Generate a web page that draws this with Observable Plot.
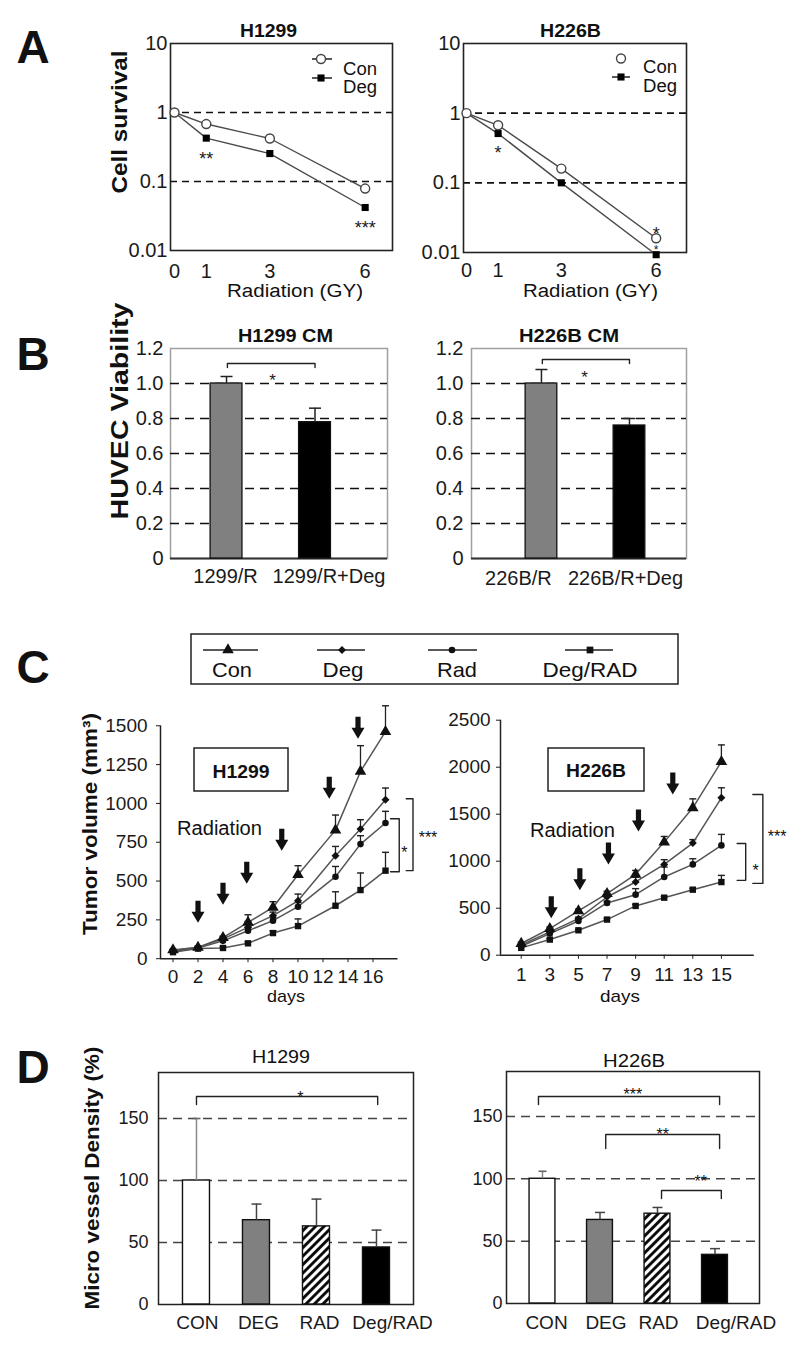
<!DOCTYPE html>
<html><head><meta charset="utf-8">
<script src="https://cdn.jsdelivr.net/npm/d3@7"></script>
<script src="https://cdn.jsdelivr.net/npm/@observablehq/plot@0.6"></script>
<style>
html,body{margin:0;padding:0;background:#fff;}
#root{position:relative;width:810px;height:1359px;overflow:hidden;background:#fff;}
#root svg{overflow:visible;}
</style></head><body><div id="root"></div>
<script>
const FONT = "'Liberation Sans', Arial, Helvetica, sans-serif";

// ---------------- Panel A : cell survival ----------------
const radDose = [0, 1, 3, 6];
const a1299Con = [1, 0.68, 0.42, 0.079];
const a1299Deg = [1, 0.425, 0.254, 0.042];
const a226Con = [1, 0.67, 0.16, 0.016];
const a226Deg = [1, 0.51, 0.10, 0.0093];
const aTicksY = [0.01, 0.1, 1, 10];
const aRefLines = [1, 0.1];
const aStars1299 = [{dose: 1, v: 0.24, t: "**", fs: 18}, {dose: 6, v: 0.024, t: "***", fs: 18}];
const aStars226 = [{dose: 1, v: 0.30, t: "*", fs: 18}, {dose: 6, v: 0.021, t: "*", fs: 18}, {dose: 6, v: 0.0125, t: "*", fs: 12}];

// ---------------- Panel B : HUVEC viability ----------------
const b1299Cats = ["1299/R", "1299/R+Deg"];
const b1299Vals = [1.0, 0.779];
const b1299Err = [1.04, 0.859];
const b226Cats = ["226B/R", "226B/R+Deg"];
const b226Vals = [1.0, 0.76];
const b226Err = [1.08, 0.80];
const bTicksY = [0, 0.2, 0.4, 0.6, 0.8, 1.0, 1.2];
const bGrid = [0.2, 0.4, 0.6, 0.8, 1.0];
const b1299Bracket = {x1: 0.01, x2: 1.0, top: 1.114, end: 1.091, sx: 0.52, sy: 1.04, t: "*"};
const b226Bracket = {x1: 0.01, x2: 1.0, top: 1.137, end: 1.114, sx: 0.49, sy: 1.057, t: "*"};

// ---------------- Panel C : tumor volume ----------------
const cSeries = ["Con", "Deg", "Rad", "Deg/RAD"];
const cDays1299 = [0, 2, 4, 6, 8, 10, 13, 15, 17];
const c1299Con = [56, 73, 135, 234, 330, 541, 828, 1206, 1462];
const c1299ConErr = [62, 80, 145, 283, 367, 599, 925, 1372, 1629];
const c1299Deg = [52, 72, 128, 202, 277, 373, 663, 835, 1024];
const c1299DegErr = [58, 78, 138, 240, 300, 416, 723, 895, 1099];
const c1299Rad = [46, 68, 115, 180, 245, 335, 528, 738, 874];
const c1299RadErr = [52, 74, 125, 200, 265, 362, 594, 792, 949];
const c1299DR = [42, 65, 69, 99, 165, 210, 341, 442, 567];
const c1299DRErr = [48, 70, 76, 108, 180, 256, 431, 552, 685];
const cDays226 = [1, 3, 5, 7, 9, 11, 13, 15];
const c226Con = [124, 283, 471, 655, 860, 1203, 1568, 2059];
const c226ConErr = [140, 300, 490, 680, 902, 1263, 1663, 2237];
const c226Deg = [110, 248, 389, 619, 779, 966, 1193, 1674];
const c226DegErr = [122, 262, 405, 640, 830, 1016, 1230, 1781];
const c226Rad = [95, 230, 364, 556, 644, 832, 966, 1168];
const c226RadErr = [108, 245, 380, 575, 708, 938, 1026, 1285];
const c226DR = [78, 166, 265, 379, 524, 612, 697, 778];
const c226DRErr = [88, 176, 275, 390, 540, 625, 712, 849];
const cTicks1299X = [0, 2, 4, 6, 8, 10, 12, 14, 16];
const cTicks1299Y = [0, 250, 500, 750, 1000, 1250, 1500];
const cTicks226X = [1, 3, 5, 7, 9, 11, 13, 15];
const cTicks226Y = [0, 500, 1000, 1500, 2000, 2500];
const cArrow1299Day = [2, 4, 5.9, 8.7, 12.5, 14.8];
const cArrow1299Tip = [232, 348, 483, 695, 1030, 1417];
const cArrow226Day = [3.1, 5.1, 7.1, 9.2, 11.6];
const cArrow226Tip = [393, 690, 966, 1316, 1709];
const cBrackets1299 = [
  {xa: 17.4, xb: 18.1, ya: 901, yb: 560, sx: 18.5, sy: 708, t: "*"},
  {xa: 18.66, xb: 19.2, ya: 1030, yb: 567, sx: 20.4, sy: 805, t: "***"}
];
const cBrackets226 = [
  {xa: 16.1, xb: 16.7, ya: 1189, yb: 796, sx: 17.4, sy: 936, t: "*"},
  {xa: 17.2, xb: 17.9, ya: 1709, yb: 764, sx: 18.9, sy: 1306, t: "***"}
];

// ---------------- Panel D : micro vessel density ----------------
const dCats = ["CON", "DEG", "RAD", "Deg/RAD"];
const d1299Vals = [100, 68, 63, 46];
const d1299Err = [150, 81, 85, 60];
const d226Vals = [100, 67, 72, 39];
const d226Err = [106, 73, 77, 44];
const dTicksY = [0, 50, 100, 150];
const dGrid = [50, 100, 150];
const d1299Brackets = [{x1: 0, x2: 3.02, top: 167.7, end: 161.3, sx: 1.73, sy: 170, t: "*"}];
const d226Brackets = [
  {x1: -0.07, x2: 3.08, top: 166, end: 159.6, sx: 1.57, sy: 170.8, t: "***"},
  {x1: 1.1, x2: 3.08, top: 135.5, end: 124.3, sx: 2.09, sy: 138, t: "**"},
  {x1: 2.07, x2: 3.11, top: 90.6, end: 84.2, sx: 2.75, sy: 101, t: "**"}
];

// ---------------- helpers ----------------
const root = document.getElementById("root");
const plain = d => String(d);
function place(frame, m, opts) {
  const [x0, x1, y0, y1] = frame;
  const [t, r, b, l] = m;
  const width = x1 - x0 + l + r, height = y1 - y0 + t + b;
  const svg = Plot.plot({
    width, height, marginTop: t, marginRight: r, marginBottom: b, marginLeft: l,
    style: {fontFamily: FONT, fontSize: opts.fontSize || "20px", color: "#1a1a1a", background: "transparent", overflow: "visible"},
    ...opts.plot
  });
  const div = document.createElement("div");
  div.style.cssText = `position:absolute;left:${x0 - l}px;top:${y0 - t}px;width:${width}px;height:${height}px;`;
  div.appendChild(svg);
  root.appendChild(div);
  return svg;
}
const cap = (w) => ({draw(ctx) { ctx.moveTo(-w, 0); ctx.lineTo(w, 0); }});
const arrowDown = {draw(ctx) {
  ctx.moveTo(0, 0); ctx.lineTo(-6.5, -11); ctx.lineTo(-2.6, -11); ctx.lineTo(-2.6, -22);
  ctx.lineTo(2.6, -22); ctx.lineTo(2.6, -11); ctx.lineTo(6.5, -11); ctx.closePath();
}};
const HATCH = "#010203";
function addHatch(svg, id) {
  const ns = "http://www.w3.org/2000/svg";
  const defs = document.createElementNS(ns, "defs");
  defs.innerHTML = `<pattern id="${id}" patternUnits="userSpaceOnUse" width="6" height="6" patternTransform="rotate(45)"><rect width="6" height="6" fill="#fff"/><line x1="1.5" y1="0" x2="1.5" y2="6" stroke="#000" stroke-width="2.8"/></pattern>`;
  svg.insertBefore(defs, svg.firstChild);
  svg.querySelectorAll(`[fill="${HATCH}"]`).forEach(el => el.setAttribute("fill", `url(#${id})`));
}

// ---------------- Panel A ----------------
function survival(frame, con, deg, stars, xDomain, xPad) {
  const rows = radDose.flatMap((d, i) => [{dose: d, v: con[i], s: "Con"}, {dose: d, v: deg[i], s: "Deg"}]);
  place(frame, [5, 5, 40, 60], {plot: {
    x: {domain: xDomain, ticks: radDose, tickSize: 0, tickPadding: xPad, label: null, tickFormat: plain},
    y: {type: "log", domain: [0.01, 10], ticks: aTicksY, tickSize: 0, tickPadding: 3, label: null, tickFormat: plain},
    marks: [
      Plot.ruleY(aRefLines, {stroke: "#111", strokeWidth: 1.6, strokeDasharray: "7,5"}),
      Plot.frame({stroke: "#222", strokeWidth: 1.6}),
      Plot.line(rows, {x: "dose", y: "v", z: "s", stroke: "#4a4a4a", strokeWidth: 1.4}),
      Plot.dot(rows, {filter: d => d.s === "Deg", x: "dose", y: "v", symbol: "square", r: 4, fill: "#000"}),
      Plot.dot(rows, {filter: d => d.s === "Con", x: "dose", y: "v", r: 4.5, fill: "white", stroke: "#444", strokeWidth: 1.4}),
      Plot.text(stars, {x: "dose", y: "v", text: "t", fontSize: "fs", dy: 4})
    ]
  }});
}
survival([170, 392, 43, 250], a1299Con, a1299Deg, aStars1299, [-0.126, 6.86], 13);
survival([463, 686, 43, 252], a226Con, a226Deg, aStars226, [-0.095, 6.96], 10);

// ---------------- Panel B ----------------
function viability(frame, cats, vals, errs, br, xDomain, dxs, labelDy, tickPad) {
  const bars = cats.map((c, i) => ({i, name: c, v: vals[i], e: errs[i]}));
  const hw = 0.18;
  const bpts = [{x: br.x1, y: br.end}, {x: br.x1, y: br.top}, {x: br.x2, y: br.top}, {x: br.x2, y: br.end}];
  place(frame, [5, 5, 35, 60], {plot: {
    x: {domain: xDomain, axis: null},
    y: {domain: [0, 1.2], ticks: bTicksY, tickSize: 0, tickPadding: tickPad, label: null, tickFormat: d => d === 0 ? "0" : d.toFixed(1)},
    marks: [
      Plot.frame({stroke: "#a0a0a0", strokeWidth: 1.5}),
      Plot.ruleY(bGrid, {stroke: "#111", strokeWidth: 1.7, strokeDasharray: "9,6"}),
      Plot.ruleY([0], {stroke: "#333", strokeWidth: 2}),
      Plot.rectY(bars, {filter: d => d.i === 0, x1: d => d.i - hw, x2: d => d.i + hw, y: "v", fill: "#808080", stroke: "#111", strokeWidth: 1.3}),
      Plot.rectY(bars, {filter: d => d.i === 1, x1: d => d.i - hw, x2: d => d.i + hw, y: "v", fill: "#000", stroke: "#111", strokeWidth: 1.3}),
      Plot.ruleX(bars, {x: "i", y1: "v", y2: "e", stroke: "#222", strokeWidth: 1.5}),
      Plot.dot(bars, {x: "i", y: "e", symbol: cap(6), stroke: "#222", strokeWidth: 1.5, fill: "none"}),
      Plot.line(bpts, {x: "x", y: "y", stroke: "#222", strokeWidth: 1.4}),
      Plot.text([br], {x: "sx", y: "sy", text: "t", fontSize: 17, dy: 4}),
      ...bars.map((b, k) => Plot.text(bars, {filter: d => d.i === k, x: "i", text: "name", frameAnchor: "bottom", lineAnchor: "top", dy: labelDy, dx: dxs[k]}))
    ]
  }});
}
viability([170, 387, 348, 558], b1299Cats, b1299Vals, b1299Err, b1299Bracket, [-0.633, 1.819], [-1, 14], 10, 7);
viability([471, 686, 348, 558], b226Cats, b226Vals, b226Err, b226Bracket, [-0.795, 1.648], [-23, -4], 12, 8);

// ---------------- Panel C ----------------
function tumor(o) {
  const syms = {"Con": ["triangle", 4.3], "Deg": ["diamond2", 3.6], "Rad": ["circle", 3.3], "Deg/RAD": ["square", 3.6]};
  const rows = cSeries.flatMap((s, k) => o.days.map((d, i) => ({s, day: d, v: o.vals[k][i], e: o.errs[k][i]})));
  const arrows = o.arrowDays.map((d, i) => ({day: d, tip: o.arrowTips[i]}));
  const bpts = o.brackets.flatMap((b, k) => [{k, x: b.xa, y: b.ya}, {k, x: b.xb, y: b.ya}, {k, x: b.xb, y: b.yb}, {k, x: b.xa, y: b.yb}]);
  place(o.frame, [5, 5, 45, 75], {fontSize: "19px", plot: {
    x: {domain: o.xDomain, ticks: o.xTicks, tickSize: 4, tickPadding: o.xPad, label: null, tickFormat: plain},
    y: {domain: o.yDomain, ticks: o.yTicks, tickSize: 4, tickPadding: o.yPad, label: null, tickFormat: plain},
    marks: [
      Plot.ruleX([o.xDomain[0]], {y1: () => 0, y2: () => o.yTicks[o.yTicks.length - 1], stroke: "#222", strokeWidth: 1.5}),
      Plot.ruleY([0], {x1: () => o.xDomain[0], x2: () => o.xAxisEnd, stroke: "#222", strokeWidth: 1.5}),
      Plot.ruleX(rows, {x: "day", y1: "v", y2: "e", stroke: "#222", strokeWidth: 1.3}),
      Plot.dot(rows, {x: "day", y: "e", symbol: cap(3.5), stroke: "#222", strokeWidth: 1.4, fill: "none"}),
      Plot.line(rows, {x: "day", y: "v", z: "s", stroke: "#555", strokeWidth: 1.5}),
      ...cSeries.map(s => Plot.dot(rows, {filter: d => d.s === s, x: "day", y: "v", symbol: syms[s][0], r: syms[s][1], fill: "#111"})),
      Plot.dot(arrows, {x: "day", y: "tip", symbol: arrowDown, fill: "#111"}),
      Plot.line(bpts, {x: "x", y: "y", z: "k", stroke: "#222", strokeWidth: 1.4}),
      Plot.text(o.brackets, {x: "sx", y: "sy", text: "t", fontSize: 16, dy: 4, fill: "#111"})
    ]
  }});
}
tumor({frame: [160, 441.25, 701.8, 958], days: cDays1299,
  vals: [c1299Con, c1299Deg, c1299Rad, c1299DR], errs: [c1299ConErr, c1299DegErr, c1299RadErr, c1299DRErr],
  xDomain: [-1, 21.5], yDomain: [0, 1650], xTicks: cTicks1299X, yTicks: cTicks1299Y, xAxisEnd: 18,
  arrowDays: cArrow1299Day, arrowTips: cArrow1299Tip, brackets: cBrackets1299, xPad: 7, yPad: 9});
tumor({frame: [500, 792.4, 715.3, 955], days: cDays226,
  vals: [c226Con, c226Deg, c226Rad, c226DR], errs: [c226ConErr, c226DegErr, c226RadErr, c226DRErr],
  xDomain: [-0.45, 20], yDomain: [0, 2550], xTicks: cTicks226X, yTicks: cTicks226Y, xAxisEnd: 17.3,
  arrowDays: cArrow226Day, arrowTips: cArrow226Tip, brackets: cBrackets226, xPad: 8, yPad: 6});

// ---------------- Panel D ----------------
function mvd(frame, vals, errs, brackets, xDomain, yDomain, tickPad, dxs, labelDy, hatchId) {
  const bars = dCats.map((c, i) => ({i, name: c, v: vals[i], e: errs[i]}));
  const hw = 0.225;
  const fills = ["#ffffff", "#808080", HATCH, "#000000"];
  const bpts = brackets.flatMap((b, k) => [{k, x: b.x1, y: b.end}, {k, x: b.x1, y: b.top}, {k, x: b.x2, y: b.top}, {k, x: b.x2, y: b.end}]);
  const svg = place(frame, [5, 5, 40, 50], {fontSize: "18px", plot: {
    x: {domain: xDomain, axis: null},
    y: {domain: yDomain, ticks: dTicksY, tickSize: 0, tickPadding: tickPad, label: null, tickFormat: plain},
    marks: [
      Plot.ruleY(dGrid, {stroke: "#444", strokeWidth: 1.5, strokeDasharray: "9,6"}),
      Plot.frame({stroke: "#222", strokeWidth: 1.5}),
      ...fills.map((f, k) => Plot.rectY(bars, {filter: d => d.i === k, x1: d => d.i - hw, x2: d => d.i + hw, y: "v", fill: f, stroke: "#111", strokeWidth: 1.4})),
      Plot.ruleX(bars, {filter: d => d.i === 0, x: "i", y1: "v", y2: "e", stroke: "#888", strokeWidth: 1.5}),
      Plot.dot(bars, {filter: d => d.i === 0, x: "i", y: "e", symbol: cap(4), stroke: "#666", strokeWidth: 1.6, fill: "none"}),
      Plot.ruleX(bars, {filter: d => d.i > 0, x: "i", y1: "v", y2: "e", stroke: "#444", strokeWidth: 1.5}),
      Plot.dot(bars, {filter: d => d.i > 0, x: "i", y: "e", symbol: cap(5), stroke: "#444", strokeWidth: 1.5, fill: "none"}),
      Plot.line(bpts, {x: "x", y: "y", z: "k", stroke: "#222", strokeWidth: 1.4}),
      Plot.text(brackets, {x: "sx", y: "sy", text: "t", fontSize: 16, dy: 4, fill: "#111"}),
      ...bars.map((b, k) => Plot.text(bars, {filter: d => d.i === k, x: "i", text: "name", fontSize: 19, frameAnchor: "bottom", lineAnchor: "top", dy: labelDy, dx: dxs[k]}))
    ]
  }});
  addHatch(svg, hatchId);
}
mvd([158, 413, 1072, 1304], d1299Vals, d1299Err, d1299Brackets, [-0.633, 3.617], [0, 187.1], 10, [1, 2, 3, 16], 11, "hatchL");
mvd([506, 759, 1071, 1303], d226Vals, d226Err, d226Brackets, [-0.626, 3.774], [0, 186], 4, [4, 6, 1, 21], 12, "hatchR");

// ---------------- overlay: titles, labels, legends ----------------
const ov = d3.select(root).append("svg").attr("width", 810).attr("height", 1359)
  .style("position", "absolute").style("left", "0px").style("top", "0px").style("overflow", "visible").style("pointer-events", "none");
function T(str, x, y, o = {}) {
  const t = ov.append("text").attr("font-family", FONT).attr("font-size", o.size || 20)
    .attr("font-weight", o.bold ? "bold" : "normal").attr("text-anchor", o.anchor || "middle").attr("fill", "#111").text(str);
  if (o.rot) t.attr("transform", `translate(${x},${y}) rotate(-90)`); else t.attr("x", x).attr("y", y);
  if (o.len) t.attr("textLength", o.len).attr("lengthAdjust", "spacingAndGlyphs");
  return t;
}
function seg(x1, x2, y, w = 1.5) { ov.append("line").attr("x1", x1).attr("x2", x2).attr("y1", y).attr("y2", y).attr("stroke", "#222").attr("stroke-width", w); }
function sym(type, r, x, y, fill, stroke) {
  ov.append("path").attr("d", d3.symbol(type, Math.PI * r * r)()).attr("transform", `translate(${x},${y})`)
    .attr("fill", fill).attr("stroke", stroke || "none").attr("stroke-width", 1.4);
}
function box(x0, x1, y0, y1) { ov.append("rect").attr("x", x0).attr("y", y0).attr("width", x1 - x0).attr("height", y1 - y0).attr("fill", "none").attr("stroke", "#222").attr("stroke-width", 1.5); }

// panel letters
T("A", 33, 63, {size: 46, bold: 1});
T("B", 33, 370, {size: 46, bold: 1});
T("C", 33, 683, {size: 46, bold: 1});
T("D", 33, 1083, {size: 46, bold: 1});

// A
T("H1299", 268.5, 37, {size: 18, bold: 1, len: 57});
T("H226B", 570.5, 37, {size: 18, bold: 1, len: 61});
T("Cell survival", 127, 122, {size: 22, bold: 1, rot: 1, len: 143});
T("Radiation (GY)", 295, 297, {size: 18, len: 136});
T("Radiation (GY)", 590.5, 297, {size: 18, len: 135});
seg(312, 332, 59); sym(d3.symbolCircle, 4.5, 321, 59, "#fff", "#444");
seg(312, 332, 78); sym(d3.symbolSquare, 4, 321, 78, "#000");
T("Con", 343, 75, {size: 18, anchor: "start", len: 34});
T("Deg", 343, 93, {size: 18, anchor: "start", len: 34});
sym(d3.symbolCircle, 4.5, 621, 58.5, "#fff", "#444");
seg(612, 630, 77); sym(d3.symbolSquare, 4, 621, 77, "#000");
T("Con", 643, 73, {size: 18, anchor: "start", len: 34});
T("Deg", 643, 92, {size: 18, anchor: "start", len: 34});

// B
T("H1299 CM", 285.5, 342, {size: 19, bold: 1, len: 95});
T("H226B CM", 569, 342, {size: 19, bold: 1, len: 100});
T("HUVEC  Viability", 128, 411, {size: 24, bold: 1, rot: 1, len: 217});

// C
box(191, 678, 634, 684);
const legX = [[203, 258, 228], [317, 365, 342], [428, 477, 452], [565, 613, 590]];
const legSym = [[d3.symbolTriangle, 4.3], [d3.symbolDiamond2, 3.6], [d3.symbolCircle, 3.3], [d3.symbolSquare, 3.8]];
const legTxt = [[232, 40], [343, 41], [457, 40], [590, 95]];
cSeries.forEach((s, k) => {
  seg(legX[k][0], legX[k][1], 650);
  sym(legSym[k][0], legSym[k][1], legX[k][2], 650, "#111");
  T(s, legTxt[k][0], 677, {size: 21, len: legTxt[k][1]});
});
T("Tumor volume (mm³)", 97, 824, {size: 21, bold: 1, rot: 1, len: 222});
T("Radiation", 219.5, 835, {size: 20, len: 85});
T("Radiation", 572.5, 837, {size: 20, len: 85});
box(194, 288, 748, 791); T("H1299", 241, 778, {size: 19, bold: 1, len: 57});
box(548, 644, 748, 791); T("H226B", 596, 777, {size: 19, bold: 1, len: 60});
T("days", 286, 1002, {size: 17, len: 38});
T("days", 620, 1002, {size: 17, len: 40});

// D
T("H1299", 281, 1063, {size: 19, len: 58});
T("H226B", 634, 1067, {size: 19, len: 62});
T("Micro vessel Density (%)", 99, 1178, {size: 21, bold: 1, rot: 1, len: 263});
</script></body></html>
